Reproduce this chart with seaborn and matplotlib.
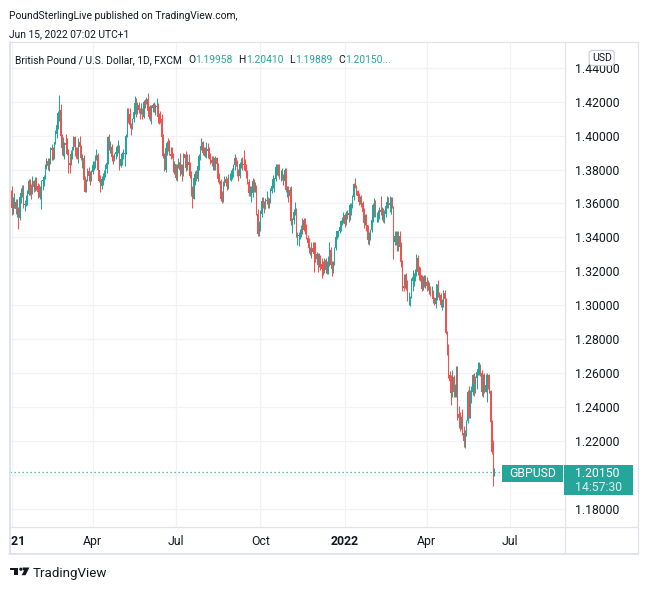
import numpy as np
import pandas as pd
import matplotlib.pyplot as plt
from matplotlib.patches import Rectangle, Polygon
from matplotlib.lines import Line2D
import seaborn as sns

# Daily GBP/USD bars, (high, low, close) in pips above 1.0000.
# FX trades round the clock, so every bar opens where the previous one closed.
first_open = 3670  # close of 31 Dec 2020

jan21 = [(3680, 3660, 3670), (3705, 3530, 3570), (3640, 3540, 3610), (3660, 3570, 3610),
         (3625, 3540, 3565), (3625, 3520, 3565), (3580, 3450, 3515), (3660, 3500, 3640),
         (3690, 3600, 3660), (3710, 3640, 3685), (3710, 3575, 3590), (3620, 3555, 3595),
         (3650, 3585, 3610), (3680, 3590, 3655), (3745, 3650, 3730), (3745, 3650, 3685),
         (3715, 3625, 3675), (3760, 3655, 3735), (3740, 3665, 3695), (3755, 3675, 3735),
         (3755, 3680, 3705)]
feb21 = [(3720, 3630, 3670), (3715, 3640, 3660), (3700, 3625, 3665), (3740, 3565, 3730),
         (3755, 3680, 3740), (3770, 3700, 3755), (3835, 3745, 3825), (3865, 3805, 3850),
         (3865, 3800, 3820), (3865, 3790, 3845), (3930, 3835, 3915), (3950, 3855, 3925),
         (3935, 3855, 3870), (3960, 3860, 3960), (4035, 3950, 4010), (4080, 3985, 4065),
         (4145, 4040, 4135), (4240, 4085, 4150), (4185, 3985, 3995), (4010, 3885, 3925)]
mar21 = [(3990, 3880, 3930), (3965, 3860, 3955), (4010, 3930, 3945), (3985, 3885, 3890),
         (3920, 3780, 3840), (3885, 3780, 3825), (3915, 3825, 3890), (3935, 3860, 3930),
         (4000, 3915, 3990), (3995, 3880, 3930), (3935, 3865, 3895), (3935, 3860, 3880),
         (3985, 3840, 3960), (4000, 3900, 3930), (3945, 3855, 3865), (3890, 3810, 3865),
         (3885, 3740, 3740), (3760, 3670, 3670), (3745, 3670, 3735), (3810, 3730, 3790),
         (3815, 3730, 3760), (3790, 3710, 3745), (3800, 3735, 3785)]
apr21 = [(3850, 3775, 3825), (3850, 3795, 3835), (3885, 3810, 3870), (3920, 3855, 3885),
         (3900, 3780, 3795), (3800, 3725, 3735), (3770, 3670, 3705), (3760, 3685, 3745),
         (3780, 3710, 3750), (3800, 3740, 3775), (3835, 3755, 3805), (3845, 3780, 3840),
         (4000, 3835, 3990), (4010, 3915, 3930), (3970, 3900, 3930), (3950, 3850, 3875),
         (3885, 3830, 3870), (3900, 3850, 3890), (3925, 3860, 3905), (3945, 3880, 3935),
         (3975, 3900, 3935), (3945, 3800, 3820)]
may21 = [(3895, 3815, 3860), (3905, 3825, 3890), (3920, 3860, 3890), (3950, 3820, 3900),
         (4010, 3890, 3995), (4165, 3990, 4140), (4165, 4075, 4130), (4165, 4045, 4060),
         (4075, 4005, 4055), (4105, 4040, 4100), (4150, 4080, 4140), (4235, 4130, 4190),
         (4220, 4110, 4150), (4200, 4130, 4180), (4200, 4135, 4150), (4165, 4100, 4145),
         (4190, 4125, 4150), (4165, 4100, 4110), (4210, 4105, 4200), (4215, 4165, 4190),
         (4230, 4185, 4215)]
jun21 = [(4250, 4140, 4145), (4175, 4100, 4110), (4180, 4085, 4090), (4180, 4070, 4160),
         (4195, 4140, 4180), (4200, 4140, 4160), (4185, 4120, 4170), (4220, 4135, 4175),
         (4190, 4075, 4110), (4135, 4070, 4105), (4145, 4075, 4095), (4130, 3990, 3990),
         (4010, 3870, 3880), (3895, 3790, 3800), (3930, 3785, 3925), (3970, 3885, 3955),
         (3985, 3910, 3930), (3975, 3885, 3890), (3935, 3860, 3880), (3935, 3865, 3870),
         (3900, 3785, 3795), (3850, 3775, 3830)]
jul21 = [(3835, 3740, 3750), (3830, 3735, 3825), (3865, 3810, 3845), (3900, 3760, 3795),
         (3835, 3775, 3795), (3835, 3730, 3765), (3895, 3760, 3890), (3890, 3820, 3870),
         (3910, 3790, 3810), (3890, 3800, 3845), (3890, 3810, 3825), (3845, 3750, 3760),
         (3790, 3645, 3685), (3705, 3570, 3625), (3765, 3625, 3750), (3790, 3710, 3775),
         (3795, 3730, 3745), (3825, 3735, 3820), (3890, 3800, 3880), (3940, 3855, 3940),
         (3985, 3915, 3960), (3970, 3885, 3900)]
aug21 = [(3935, 3880, 3885), (3935, 3875, 3905), (3960, 3865, 3920), (3955, 3870, 3910),
         (3930, 3860, 3870), (3895, 3830, 3855), (3880, 3820, 3840), (3880, 3800, 3865),
         (3870, 3800, 3820), (3880, 3800, 3870), (3875, 3780, 3830), (3840, 3725, 3745),
         (3780, 3715, 3735), (3745, 3615, 3625), (3675, 3600, 3620), (3730, 3610, 3720),
         (3760, 3700, 3745), (3760, 3700, 3720), (3750, 3680, 3700), (3775, 3685, 3760),
         (3780, 3740, 3760), (3795, 3735, 3760)]
sep21 = [(3810, 3745, 3775), (3835, 3755, 3825), (3890, 3800, 3865), (3875, 3820, 3835),
         (3855, 3760, 3775), (3805, 3730, 3760), (3845, 3750, 3835), (3870, 3810, 3840),
         (3875, 3800, 3830), (3915, 3800, 3825), (3860, 3790, 3820), (3830, 3750, 3775),
         (3800, 3715, 3725), (3745, 3645, 3660), (3700, 3645, 3660), (3700, 3610, 3660),
         (3750, 3640, 3735), (3745, 3670, 3675), (3725, 3665, 3705), (3710, 3530, 3540),
         (3565, 3410, 3420), (3495, 3410, 3475)]
oct21 = [(3560, 3435, 3535), (3640, 3520, 3615), (3640, 3570, 3610), (3615, 3545, 3590),
         (3630, 3565, 3615), (3675, 3595, 3620), (3640, 3570, 3595), (3630, 3570, 3610),
         (3690, 3600, 3675), (3720, 3660, 3705), (3770, 3690, 3745), (3750, 3670, 3745),
         (3835, 3735, 3815), (3830, 3770, 3825), (3835, 3760, 3795), (3835, 3745, 3760),
         (3795, 3735, 3760), (3810, 3740, 3765), (3775, 3710, 3735), (3810, 3725, 3795),
         (3810, 3670, 3680)]
nov21 = [(3700, 3640, 3685), (3700, 3610, 3645), (3695, 3605, 3680), (3700, 3470, 3495),
         (3515, 3425, 3500), (3565, 3480, 3550), (3610, 3530, 3550), (3570, 3400, 3410),
         (3430, 3355, 3410), (3430, 3350, 3415), (3450, 3390, 3420), (3475, 3400, 3460),
         (3515, 3420, 3445), (3515, 3440, 3505), (3515, 3420, 3440), (3480, 3390, 3395),
         (3415, 3345, 3365), (3395, 3310, 3335), (3345, 3295, 3320), (3370, 3280, 3335),
         (3375, 3305, 3315), (3370, 3195, 3300)]
dec21 = [(3370, 3255, 3270), (3315, 3240, 3300), (3310, 3195, 3235), (3305, 3225, 3285),
         (3295, 3210, 3245), (3275, 3160, 3215), (3260, 3180, 3210), (3275, 3190, 3265),
         (3275, 3190, 3210), (3260, 3185, 3225), (3290, 3185, 3285), (3375, 3230, 3325),
         (3340, 3225, 3235), (3260, 3170, 3215), (3260, 3190, 3245), (3345, 3235, 3335),
         (3410, 3325, 3400), (3440, 3390, 3435), (3445, 3400, 3440), (3470, 3425, 3460),
         (3505, 3440, 3495), (3520, 3470, 3500), (3550, 3485, 3530)]
jan22 = [(3545, 3460, 3480), (3555, 3475, 3530), (3560, 3510, 3545), (3555, 3490, 3530),
         (3600, 3505, 3590), (3600, 3530, 3595), (3650, 3570, 3635), (3720, 3620, 3715),
         (3750, 3690, 3705), (3710, 3650, 3675), (3680, 3630, 3645), (3660, 3590, 3610),
         (3645, 3595, 3625), (3650, 3580, 3600), (3615, 3540, 3550), (3570, 3455, 3485),
         (3535, 3475, 3495), (3535, 3440, 3470), (3475, 3360, 3385), (3430, 3355, 3405),
         (3450, 3385, 3445)]
feb22 = [(3515, 3430, 3505), (3600, 3490, 3590), (3630, 3520, 3600), (3620, 3520, 3530),
         (3550, 3490, 3530), (3560, 3490, 3530), (3580, 3510, 3560), (3645, 3530, 3550),
         (3580, 3500, 3560), (3570, 3490, 3525), (3560, 3485, 3535), (3600, 3520, 3585),
         (3645, 3575, 3610), (3640, 3575, 3590), (3645, 3550, 3600), (3640, 3540, 3600),
         (3640, 3575, 3575), (3585, 3270, 3375), (3440, 3355, 3410), (3440, 3355, 3410)]
mar22 = [(3440, 3320, 3345), (3440, 3320, 3410), (3440, 3335, 3345), (3375, 3225, 3255),
         (3265, 3085, 3110), (3185, 3085, 3100), (3185, 3100, 3180), (3190, 3090, 3110),
         (3150, 3025, 3035), (3075, 3000, 3035), (3055, 2995, 3050), (3160, 3040, 3140),
         (3210, 3085, 3165), (3190, 3110, 3180), (3215, 3140, 3200), (3300, 3170, 3275),
         (3295, 3175, 3195), (3230, 3150, 3190), (3225, 3145, 3180), (3180, 3085, 3095),
         (3170, 3090, 3115), (3175, 3105, 3145), (3180, 3100, 3135)]
apr22 = [(3165, 3085, 3115), (3150, 3090, 3120), (3135, 3065, 3075), (3110, 3055, 3070),
         (3110, 3050, 3070), (3090, 3010, 3035), (3045, 3000, 3005), (3050, 2980, 3040),
         (3125, 3030, 3125), (3150, 3045, 3065), (3080, 3030, 3060), (3070, 2990, 3000),
         (3035, 2970, 3005), (3090, 2990, 3070), (3090, 3020, 3035), (3040, 2830, 2835),
         (2850, 2705, 2740), (2770, 2570, 2590), (2610, 2540, 2550), (2585, 2410, 2480),
         (2620, 2460, 2575)]
may22 = [(2590, 2460, 2490), (2535, 2455, 2500), (2640, 2460, 2625), (2640, 2325, 2355),
         (2405, 2275, 2335), (2370, 2260, 2320), (2345, 2270, 2325), (2390, 2235, 2245),
         (2285, 2160, 2200), (2265, 2155, 2260), (2325, 2230, 2315), (2500, 2305, 2490),
         (2525, 2335, 2340), (2500, 2335, 2475), (2525, 2425, 2485), (2595, 2470, 2585),
         (2600, 2465, 2535), (2580, 2480, 2570), (2620, 2505, 2605), (2665, 2590, 2625),
         (2665, 2590, 2630), (2655, 2580, 2600)]
jun22 = [(2615, 2465, 2485), (2595, 2460, 2590), (2600, 2480, 2490), (2595, 2490, 2530),
         (2600, 2430, 2585), (2590, 2505, 2535), (2595, 2480, 2495), (2500, 2310, 2310),
         (2320, 2120, 2135), (2205, 1935, 1996), (2041, 1989, 2015)]

months = [jan21, feb21, mar21, apr21, may21, jun21, jul21, aug21, sep21, oct21,
          nov21, dec21, jan22, feb22, mar22, apr22, may22, jun22]

price_ticks = [1.18, 1.20, 1.22, 1.24, 1.26, 1.28, 1.30, 1.32, 1.34, 1.36, 1.38, 1.40, 1.42, 1.44]
time_ticks = ['2021-01-04', '2021-04-01', '2021-07-01', '2021-10-01', '2022-01-01', '2022-04-01', '2022-07-01']
time_labels = ['2021', 'Apr', 'Jul', 'Oct', '2022', 'Apr', 'Jul']
legend_name = 'British Pound / U.S. Dollar, 1D, FXCM'
legend_keys = ['O', 'H', 'L', 'C']
legend_ohlc = ['1.19958', '1.20410', '1.19889', '1.20150...']
last_price = 1.20150

UP = '#26a69a'
DOWN = '#ef5350'
INK = '#131722'
GRID = '#f0f2f6'
BORDER = '#e0e3eb'

sns.set_theme(style='white')
plt.rcParams['font.family'] = ['Roboto', 'DejaVu Sans']

# build the bar table
rows = [bar for m in months for bar in m]
df = pd.DataFrame(rows, columns=['high', 'low', 'close']) / 10000 + 1
df['open'] = df['close'].shift(1).fillna(1 + first_open / 10000)
df['i'] = np.arange(len(df))
df['high'] = df[['high', 'open', 'close']].max(axis=1)
df['low'] = df[['low', 'open', 'close']].min(axis=1)

# trading calendar (weekdays) for the time axis
cal = pd.bdate_range('2021-01-01', '2022-09-30')
tick_pos = [cal.searchsorted(pd.Timestamp(d)) for d in time_ticks]

W, H = 648, 590
fig = plt.figure(figsize=(W / 100, H / 100), dpi=100)
fig.patch.set_facecolor('white')
renderer = fig.canvas.get_renderer()


def fx(px):
    return px / W


def fy(py):
    return 1 - py / H


def fig_line(x0, y0, x1, y1, **kw):
    fig.add_artist(Line2D([fx(x0), fx(x1)], [fy(y0), fy(y1)], transform=fig.transFigure, **kw))


ax = fig.add_axes([fx(10), fy(527), (565 - 10) / W, (527 - 42) / H])
ax.set_facecolor('white')

for mask, color in [(df['close'] >= df['open'], UP), (df['close'] < df['open'], DOWN)]:
    d = df[mask]
    ax.vlines(d['i'], d['low'], d['high'], color=color, lw=0.75, zorder=3)
    body = (d['close'] - d['open']).abs().clip(lower=0.0003)
    ax.bar(d['i'], body, bottom=d[['open', 'close']].min(axis=1), width=0.85,
           color=color, linewidth=0, zorder=3)

ax.axhline(last_price, xmin=0, xmax=(502 - 10) / 555, color=UP, lw=0.9,
           ls=(0, (1, 2.2)), zorder=2)

ax.set_xlim(-0.5, 433.1)
ax.set_ylim(1.16909, 1.45522)
ax.set_xticks(tick_pos)
ax.set_yticks(price_ticks)
# the 1.20000 label sits under the last-price badge, so it is left blank
ax.set_yticklabels(['' if abs(v - 1.20) < 1e-9 else f'{v:.5f}' for v in price_ticks])
ax.yaxis.tick_right()
ax.tick_params(axis='y', length=0, pad=7.2, labelsize=8.8, labelcolor=INK)
ax.tick_params(axis='x', length=0, labelbottom=False)
ax.grid(True, color=GRID, lw=0.9)
for s in ax.spines.values():
    s.set_visible(False)

# time axis strip, labels clipped at the chart edge like the original
ax_t = fig.add_axes([fx(10), fy(553), (565 - 10) / W, (553 - 527) / H])
ax_t.set_xlim(ax.get_xlim())
ax_t.set_ylim(0, 1)
ax_t.axis('off')
for p, lab in zip(tick_pos, time_labels):
    bold = lab.startswith('20')
    ax_t.text(p, 0.45, lab, ha='center', va='center', fontsize=8.8, color=INK,
              fontweight='bold' if bold else 'normal', clip_on=True)

# frame lines
fig_line(9, 42, 638, 42, color=BORDER, lw=0.9)
fig_line(9, 553.5, 638, 553.5, color=BORDER, lw=1.4)
fig_line(9.5, 42, 9.5, 553.5, color=BORDER, lw=1.4)
fig_line(638, 42, 638, 553.5, color=BORDER, lw=0.9)
fig_line(565, 42, 565, 553.5, color=BORDER, lw=0.9)
fig_line(9, 527, 638, 527, color=BORDER, lw=0.9)

# header
fig.text(fx(9), fy(16), 'PoundSterlingLive published on TradingView.com,', fontsize=7.4,
         color=INK, va='center')
fig.text(fx(9), fy(34), 'Jun 15, 2022 07:02 UTC+1', fontsize=7.4, color=INK, va='center')

# legend line inside the pane, pieces laid out one after another
pieces = [(legend_name, INK, 6)]
for key, val in zip(legend_keys, legend_ohlc):
    pieces += [(key, INK, 0.3), (val, UP, 6)]
x = 15
for text, color, gap in pieces:
    t = fig.text(fx(x), fy(60), text, fontsize=7.4, color=color, va='center')
    x = t.get_window_extent(renderer).x1 + gap

# currency badge over the top price label
fig.text(fx(601.7), fy(58), 'USD', fontsize=7.6, color=INK, ha='center', va='center', zorder=10,
         bbox=dict(boxstyle='round,pad=0.25,rounding_size=0.35', fc='white', ec='#c9ccd3', lw=0.8))

# last price markers
fig.add_artist(Rectangle((fx(502.3), fy(481.7)), (562.7 - 502.3) / W, (481.7 - 465) / H,
                         transform=fig.transFigure, color=UP, lw=0, zorder=10))
fig.text(fx(532.5), fy(473.5), 'GBPUSD', fontsize=8.8, color='white', ha='center', va='center', zorder=11)
fig.add_artist(Rectangle((fx(564), fy(495)), (632.7 - 564) / W, (495 - 465) / H,
                         transform=fig.transFigure, color=UP, lw=0, zorder=10))
fig.text(fx(575), fy(473.5), f'{last_price:.5f}', fontsize=8.8, color='white', va='center', zorder=11)
fig.text(fx(575), fy(487.5), '14:57:30', fontsize=8.8, color='#d8f0ed', va='center', zorder=11)

# TradingView mark
logo_t = [(10, 567.5), (18, 567.5), (18, 575.2), (14, 575.2), (14, 570.4), (10, 570.4)]
logo_7 = [(22.6, 567.5), (29.4, 567.5), (25.6, 575.2), (21.6, 575.2), (24.2, 570.4), (22.6, 570.4)]
logo_dot = [(20.8 + 1.6 * np.cos(t), 569.2 + 1.6 * np.sin(t)) for t in np.linspace(0, 2 * np.pi, 24)]
for pts in [logo_t, logo_7, logo_dot]:
    fig.add_artist(Polygon([(fx(a), fy(b)) for a, b in pts], transform=fig.transFigure,
                           color=INK, lw=0))
fig.text(fx(33), fy(573.5), 'TradingView', fontsize=9.6, color=INK, va='center')

fig.savefig('out.png', dpi=100, facecolor='white')
